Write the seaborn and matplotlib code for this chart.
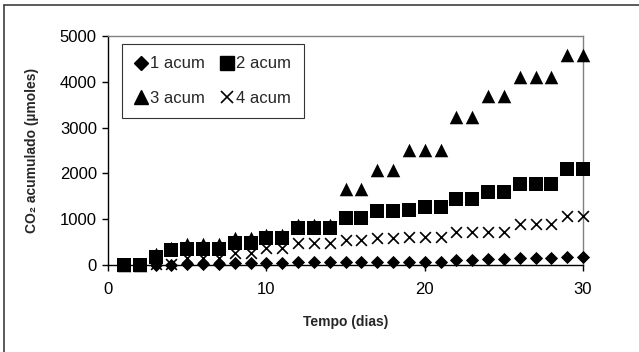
import matplotlib.pyplot as plt
import numpy as np
import pandas as pd
import seaborn as sns
from matplotlib.lines import Line2D

plt.switch_backend("Agg")

# Accumulated CO2 per treatment, day 1..30
days = list(range(1, 31))
acum_1 = [0, 0, 0, 0, 30, 30, 30, 45, 45, 50, 50, 55, 55, 55, 65,
          65, 70, 70, 70, 75, 75, 120, 120, 130, 130, 160, 160, 160, 165, 165]
acum_2 = [0, 0, 180, 320, 350, 350, 350, 480, 480, 600, 600, 800, 800, 800, 1020,
          1020, 1170, 1170, 1200, 1260, 1260, 1440, 1440, 1590, 1590, 1760, 1760, 1760, 2100, 2100]
acum_3 = [0, 0, 250, 380, 450, 450, 450, 580, 580, 650, 650, 870, 870, 870, 1650,
          1650, 2070, 2070, 2510, 2510, 2510, 3230, 3230, 3700, 3700, 4100, 4100, 4100, 4590, 4590]
acum_4 = [0, 0, 20, 20, 150, 150, 150, 260, 260, 370, 370, 470, 470, 470, 540,
          540, 600, 600, 610, 610, 610, 710, 710, 710, 710, 890, 890, 890, 1070, 1070]

series_names = ["1 acum", "2 acum", "3 acum", "4 acum"]
x_ticks = [0, 10, 20, 30]
y_ticks = [0, 1000, 2000, 3000, 4000, 5000]

df = pd.DataFrame({
    "dia": days * 4,
    "co2": acum_1 + acum_2 + acum_3 + acum_4,
    "serie": np.repeat(series_names, len(days)),
})

sns.set_style("white")
plt.rcParams["font.family"] = ["Liberation Sans", "DejaVu Sans"]

markers = {"1 acum": "D", "2 acum": "s", "3 acum": "^", "4 acum": "x"}
sizes = {"1 acum": 45, "2 acum": 90, "3 acum": 95, "4 acum": 60}

fig = plt.figure(figsize=(6.39, 3.52), dpi=100)
ax = fig.add_axes([108 / 639, 1 - 265 / 352, 475 / 639, 229 / 352])

for name in series_names:
    sub = df[df["serie"] == name]
    kw = dict(color="black", linewidth=1.2) if markers[name] == "x" else dict(color="black", edgecolor="black", linewidth=0)
    sns.scatterplot(data=sub, x="dia", y="co2", marker=markers[name], s=sizes[name],
                    ax=ax, clip_on=False, zorder=3, **kw)

ax.set_xlim(0, 30)
ax.set_ylim(0, 5000)
ax.set_xticks(x_ticks)
ax.set_yticks(y_ticks)
ax.tick_params(axis="both", labelsize=12, colors="black", length=4, width=1,
               direction="out", left=True, bottom=True)
ax.tick_params(axis="x", pad=8)
ax.tick_params(axis="y", pad=4)

for side in ["top", "right"]:
    ax.spines[side].set_color("#808080")
    ax.spines[side].set_linewidth(1)
for side in ["left", "bottom"]:
    ax.spines[side].set_color("black")
    ax.spines[side].set_linewidth(1)

ax.set_xlabel("Tempo (dias)", fontsize=10, fontweight="bold", labelpad=13)
ax.set_ylabel("CO₂ acumulado (µmoles)", fontsize=10, fontweight="bold", labelpad=15)

handles = {}
for name in series_names:
    if markers[name] == "x":
        h = Line2D([], [], marker="x", color="black", linestyle="none",
                   markersize=9, markeredgewidth=1.2)
    else:
        ms = {"D": 7.5, "s": 10, "^": 10}[markers[name]]
        h = Line2D([], [], marker=markers[name], color="black", linestyle="none",
                   markersize=ms)
    handles[name] = h

# legend is filled column by column, so reorder to read row-wise
leg_order = ["1 acum", "3 acum", "2 acum", "4 acum"]
leg = ax.legend([handles[n] for n in leg_order], leg_order, ncol=2, loc="upper left",
                bbox_to_anchor=(14 / 475, 1 - 8 / 229), borderaxespad=0, fontsize=12,
                frameon=True, fancybox=False, edgecolor="black",
                handlelength=0.8, handletextpad=0.15, columnspacing=0.9,
                labelspacing=1.15, borderpad=0.75)
leg.get_frame().set_linewidth(0.8)

# outer chart-area frame (only top and left edges visible)
fig.add_artist(Line2D([4 / 639, 4 / 639], [0, 1 - 5 / 352], color="#404040",
                      linewidth=1.2, transform=fig.transFigure))
fig.add_artist(Line2D([4 / 639, 1], [1 - 5 / 352, 1 - 5 / 352], color="#404040",
                      linewidth=1.2, transform=fig.transFigure))

fig.savefig("out.png", dpi=100)
plt.close(fig)
